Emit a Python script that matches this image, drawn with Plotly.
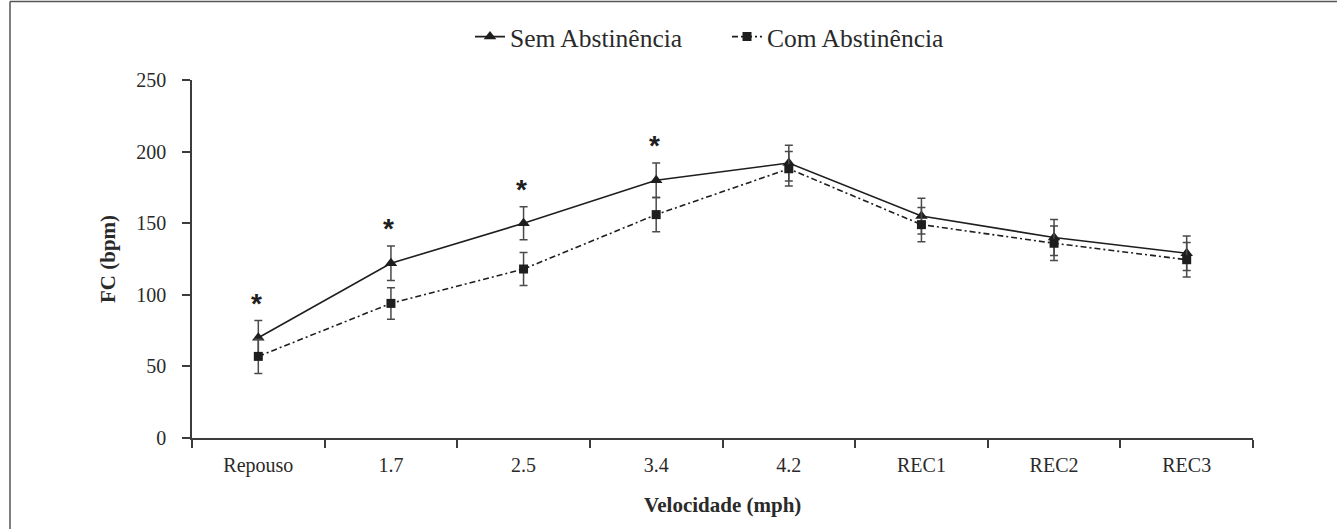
import plotly.graph_objects as go

categories = ["Repouso", "1.7", "2.5", "3.4", "4.2", "REC1", "REC2", "REC3"]
sem_values = [70, 122, 150, 180, 192, 155, 140, 129]
sem_errors = [12, 12, 11.5, 12, 12.5, 12.5, 12.5, 12]
com_values = [57, 94, 118, 156, 188, 149, 136, 124.5]
com_errors = [12, 11, 11.5, 12, 12, 12, 12, 12]
significant = ["Repouso", "1.7", "2.5", "3.4"]
y_ticks = [0, 50, 100, 150, 200, 250]

W, H = 1337, 529
ML, MR, MT, MB = 192, 84, 80, 91
PW = W - ML - MR
PH = H - MT - MB

def px_x(p):
    return (p - ML) / PW

def px_y(p):
    return 1 - (p - MT) / PH

SERIF = "Liberation Serif"
INK = "#1e1e1e"
ERR = "#4a4a4a"
AXIS = "#3c3c3c"
TXT = "#2a2a2a"

fig = go.Figure()
fig.add_trace(go.Scatter(
    x=categories, y=sem_values, name="Sem Abstinência",
    mode="lines+markers",
    line=dict(color=INK, width=1.6, dash="solid"),
    marker=dict(symbol="triangle-up", size=11, color=INK),
    error_y=dict(type="data", array=sem_errors, visible=True,
                 color=ERR, thickness=1.5, width=4),
))
fig.add_trace(go.Scatter(
    x=categories, y=com_values, name="Com Abstinência",
    mode="lines+markers",
    line=dict(color=INK, width=1.6, dash="6px,3px,2px,3px"),
    marker=dict(symbol="square", size=9, color=INK),
    error_y=dict(type="data", array=com_errors, visible=True,
                 color=ERR, thickness=1.5, width=4),
))

annotations = []
for c in significant:
    i = categories.index(c)
    annotations.append(dict(
        x=i, y=sem_values[i] + sem_errors[i], xref="x", yref="y",
        text="<b>*</b>", showarrow=False, yanchor="bottom",
        xshift=-2, yshift=0,
        font=dict(family="Liberation Sans", size=28, color=INK),
    ))

annotations.append(dict(
    x=0.5, y=px_y(505), xref="paper", yref="paper",
    text="<b>Velocidade (mph)</b>", showarrow=False,
    xanchor="center", yanchor="middle",
    font=dict(family=SERIF, size=21, color=TXT),
))
annotations.append(dict(
    x=px_x(108), y=px_y(259), xref="paper", yref="paper",
    text="<b>FC (bpm)</b>", showarrow=False, textangle=-90,
    xanchor="center", yanchor="middle",
    font=dict(family=SERIF, size=21, color=TXT),
))

shapes = [
    dict(type="line", xref="paper", yref="paper",
         x0=px_x(10), x1=px_x(W + 10), y0=px_y(1.5), y1=px_y(1.5),
         line=dict(color="#555555", width=1.5)),
    dict(type="line", xref="paper", yref="paper",
         x0=px_x(10), x1=px_x(10), y0=px_y(1.5), y1=px_y(H + 10),
         line=dict(color="#555555", width=1.5)),
]

fig.update_layout(
    width=W, height=H,
    margin=dict(l=ML, r=MR, t=MT, b=MB, autoexpand=False),
    paper_bgcolor="white", plot_bgcolor="white",
    font=dict(family=SERIF, size=20, color=TXT),
    showlegend=True,
    legend=dict(orientation="h", x=px_x(470), y=px_y(37),
                xanchor="left", yanchor="middle",
                font=dict(family=SERIF, size=25.5, color=TXT),
                bgcolor="rgba(0,0,0,0)", itemwidth=30,
                entrywidth=212, entrywidthmode="pixels"),
    annotations=annotations,
    shapes=shapes,
    xaxis=dict(
        type="category", range=[-0.5, len(categories) - 0.5],
        showline=True, linecolor=AXIS, linewidth=1.5,
        ticks="outside", ticklen=8, tickwidth=1.5, tickcolor=AXIS,
        tickson="boundaries", showgrid=False, zeroline=False,
        ticklabelstandoff=8,
        tickfont=dict(family=SERIF, size=20, color=TXT),
    ),
    yaxis=dict(
        range=[0, 250], tickvals=y_ticks,
        showline=True, linecolor=AXIS, linewidth=1.5,
        ticks="outside", ticklen=8, tickwidth=1.5, tickcolor=AXIS,
        showgrid=False, zeroline=False, ticklabelstandoff=12,
        tickfont=dict(family=SERIF, size=20, color=TXT),
    ),
)

fig.write_html(
    "out.html",
    config={"displayModeBar": False},
    post_script="document.body.style.margin='0';document.body.style.padding='0';",
)
